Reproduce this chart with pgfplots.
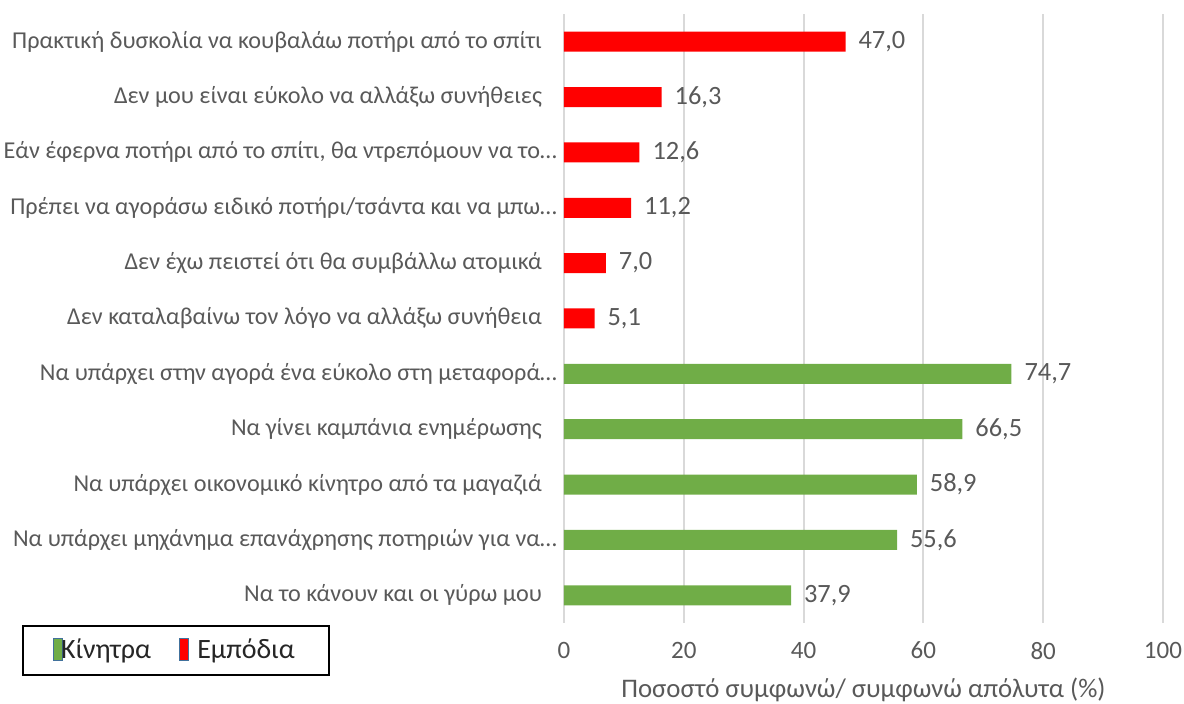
\documentclass[border=0pt]{standalone}
\usepackage{fontspec}
\setmainfont{Carlito}
\usepackage{pgfplots}
\pgfplotsset{compat=1.18}
\definecolor{txt}{HTML}{595959}
\definecolor{grd}{HTML}{D9D9D9}
\definecolor{bred}{HTML}{FF0000}
\definecolor{bgreen}{HTML}{70AD47}
\definecolor{lborder}{HTML}{41719C}
\begin{document}
\begin{tikzpicture}
\begin{axis}[
  scale only axis,
  width=299.5pt, height=304.5pt,
  xmin=0, xmax=100, ymin=-0.5, ymax=10.5,
  xtick={0,20,...,100},
  ytick={0,...,10},
  yticklabels={
    {Να το κάνουν και οι γύρω μου\hspace*{7.5pt}},
    {Να υπάρχει μηχάνημα επανάχρησης ποτηριών για να…},
    {Να υπάρχει οικονομικό κίνητρο από τα μαγαζιά\hspace*{7.5pt}},
    {Να γίνει καμπάνια ενημέρωσης\hspace*{7.5pt}},
    {Να υπάρχει στην αγορά ένα εύκολο στη μεταφορά…},
    {Δεν καταλαβαίνω τον λόγο να αλλάξω συνήθεια\hspace*{7.5pt}},
    {Δεν έχω πειστεί ότι θα συμβάλλω ατομικά\hspace*{7.5pt}},
    {Πρέπει να αγοράσω ειδικό ποτήρι/τσάντα και να μπω…},
    {Εάν έφερνα ποτήρι από το σπίτι, θα ντρεπόμουν να το…},
    {Δεν μου είναι εύκολο να αλλάξω συνήθειες\hspace*{7.5pt}},
    {Πρακτική δυσκολία να κουβαλάω ποτήρι από το σπίτι\hspace*{7.5pt}}
  },
  /pgf/number format/assume math mode=true,
  axis line style={draw=none},
  major tick length=0pt,
  tick style={draw=none},
  xmajorgrids,
  grid style={draw=grd, line width=1pt},
  ticklabel style={text=txt},
  yticklabel style={font=\fontsize{12.1}{14}\selectfont},
  xticklabel style={font=\fontsize{12.5}{14}\selectfont, yshift=-6pt},
  xlabel={Ποσοστό συμφωνώ/ συμφωνώ απόλυτα (\%)},
  xlabel style={at={(axis description cs:0.5,0)}, anchor=center, yshift=-33.5pt, font=\fontsize{13.4}{15}\selectfont, text=txt},
  xbar, bar width=10pt, bar shift=0pt,
  nodes near coords,
  nodes near coords style={font=\fontsize{13.2}{15}\selectfont, text=txt, anchor=west, xshift=3pt,
    /pgf/number format/.cd, fixed, fixed zerofill, precision=1, use comma, assume math mode=true},
  legend columns=2,
  legend style={at={(rel axis cs:0,0)}, anchor=north west, xshift=-271pt, yshift=-1pt,
    draw=black, line width=1pt, inner xsep=15pt, inner ysep=4.5pt,
    font=\fontsize{14}{16}\selectfont, text=black!85,
    /tikz/every even column/.append style={column sep=12pt}},
  legend cell align=left,
]
\addplot[fill=bgreen, draw=none,
  legend image code/.code={\draw[fill=bgreen, draw=lborder, line width=0.6pt] (0pt,-5pt) rectangle (4.5pt,6pt);}]
  coordinates {(37.9,0) (55.6,1) (58.9,2) (66.5,3) (74.7,4)};
\addlegendentry{\hspace*{-3pt}Κίνητρα}
\addplot[fill=bred, draw=none,
  legend image code/.code={\draw[fill=bred, draw=lborder, line width=0.6pt] (0pt,-5pt) rectangle (4.5pt,6pt);}]
  coordinates {(5.1,5) (7.0,6) (11.2,7) (12.6,8) (16.3,9) (47.0,10)};
\addlegendentry{\hspace*{2pt}Εμπόδια}
\coordinate (O) at (rel axis cs:0,0);
\end{axis}
\pgfresetboundingbox
\path (O) ++(-282pt,-40.5pt) rectangle ++(592pt,352pt);
\end{tikzpicture}
\end{document}
